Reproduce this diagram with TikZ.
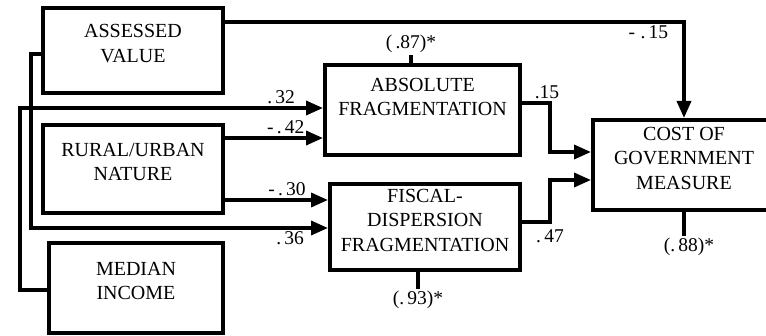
\documentclass[tikz,border=0pt]{standalone}
\usepackage{fontspec}
\setmainfont{Liberation Serif}
\usetikzlibrary{arrows.meta,positioning,calc}
\newcommand{\boxfont}{\fontsize{20}{24.5}\selectfont}
\newcommand{\coeffont}{\fontsize{19.5}{21}\selectfont}
\tikzset{
  var/.style={draw, rectangle, line width=4pt, inner sep=0pt},
  vtext/.style={align=center, font=\boxfont, yshift=7pt},
  link/.style={-{Triangle[length=17pt, width=14pt]}, line width=3.6pt},
  coef/.style={font=\coeffont, inner sep=2pt},
  stub/.style={line width=4.5pt},
}

\begin{document}
\begin{tikzpicture}[x=1pt, y=1pt]
  \useasboundingbox (0,0) rectangle (766,335);
  \clip (0,0) rectangle (766,335);
  % exogenous variables
  \node[var, minimum width=180pt, minimum height=85pt, label={[vtext]center:ASSESSED\\VALUE}] (assessed) at (133,284.5) {};
  \node[var, minimum width=180pt, minimum height=88pt, label={[vtext]center:RURAL/URBAN\\NATURE}] (rural) at (133,166) {};
  \node[var, minimum width=174pt, minimum height=90pt, label={[vtext]center:MEDIAN\\INCOME}] (median) at (136,47) {};
  % fragmentation measures
  \node[var, minimum width=195pt, minimum height=90pt, label={[vtext, yshift=6pt]center:ABSOLUTE\\FRAGMENTATION}] (absfrag) at (422.5,225) {};
  \node[var, minimum width=190pt, minimum height=86pt, label={[vtext]center:FISCAL-\\DISPERSION\\FRAGMENTATION}] (fiscal) at (425,108) {};
  % outcome
  \node[var, minimum width=182pt, minimum height=90pt, label={[vtext]center:COST OF\\GOVERNMENT\\MEASURE}] (cost) at (684,170) {};
  % residuals
  \node[coef] (e87) at (411,291) {(\,.87)*};
  \node[coef] (e93) at (418,35) {(.\,93)*};
  \node[coef] (e88) at (689,88) {(.\,88)*};
  \draw[stub] (absfrag.north -| e87.south) -- (e87.south);
  \draw[stub] (fiscal.south -| e93.north) -- (e93.north);
  \draw[stub] (cost.south) -- (cost.south |- e88.north);
  % paths
  \draw[link] ([yshift=-2pt]median.west) -- ++(-27,0) |- node[coef, pos=0.96, above left] {.\,32} ([yshift=2pt]absfrag.west);
  \draw[link] ([yshift=31pt]rural.east) -- node[coef, pos=0.85, above left] {-\,.\,42} ([yshift=-28pt]absfrag.west);
  \draw[link] ([yshift=-31pt]rural.east) -- node[coef, pos=0.82, above left] {-\,.\,30} ([yshift=27pt]fiscal.west);
  \draw[link] ([yshift=-3.5pt]assessed.west) -- ++(-10,0) |- node[coef, pos=0.966, below left] {.\,36} ([yshift=-1pt]fiscal.west);
  \draw[link] ([yshift=28.5pt]assessed.east) -| node[coef, pos=0.5, below left, xshift=-12pt] {-\;.\,15} (cost.north);
  \draw[link] ([yshift=7pt]absfrag.east) -- ++(28,0) node[coef, above, xshift=-3pt] {.15} |- ([yshift=13pt]cost.west);
  \draw[link] ([yshift=5pt]fiscal.east) -- ++(28,0) node[coef, below, yshift=-4pt] {.\,47} |- ([yshift=-15pt]cost.west);
\end{tikzpicture}
\end{document}
